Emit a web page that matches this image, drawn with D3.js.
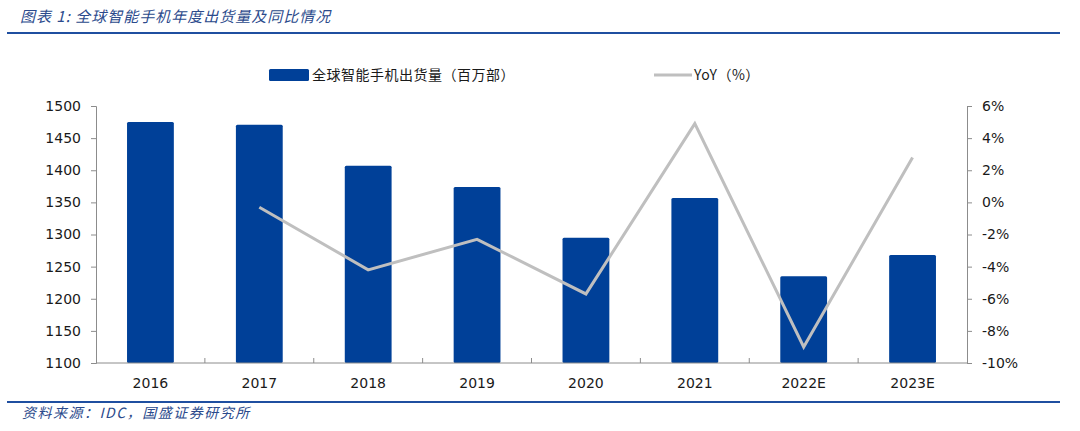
<!DOCTYPE html>
<html>
<head>
<meta charset="utf-8">
<script src="https://cdn.jsdelivr.net/npm/d3@7"></script>
<style>
  body { margin: 0; background: #fff; }
  svg { display: block; }
  .tick text { font-family: "DejaVu Sans", sans-serif; font-size: 14px; fill: #1a1a1a; }
</style>
</head>
<body>
<div id="chart"></div>
<script>
// data
const years = ["2016", "2017", "2018", "2019", "2020", "2021", "2022E", "2023E"];
const shipments = [1475, 1471, 1407, 1374, 1295, 1357, 1235, 1268];
const yoy = [null, -0.3, -4.2, -2.3, -5.7, 4.9, -9.0, 2.8];
const leftTicks = [1100, 1150, 1200, 1250, 1300, 1350, 1400, 1450, 1500];
const rightTicks = [-10, -8, -6, -4, -2, 0, 2, 4, 6];

const W = 1080, H = 431;
const m = { left: 96, right: 113, top: 106, bottom: 68 };
const iw = W - m.left - m.right, ih = H - m.top - m.bottom;

const svg = d3.select("#chart").append("svg").attr("width", W).attr("height", H);

// title + rules
svg.append("text")
    .attr("x", 20).attr("y", 22)
    .attr("font-family", "'Noto Sans CJK SC', sans-serif")
    .attr("font-size", 15).attr("font-style", "italic")
    .attr("letter-spacing", 1)
    .attr("fill", "#2b4a8c")
    .text("图表 1:  全球智能手机年度出货量及同比情况");
svg.append("line").attr("x1", 7).attr("x2", 1060).attr("y1", 33).attr("y2", 33)
    .attr("stroke", "#1f4fa0").attr("stroke-width", 2);
svg.append("line").attr("x1", 7).attr("x2", 1060).attr("y1", 402).attr("y2", 402)
    .attr("stroke", "#1f4fa0").attr("stroke-width", 2);
svg.append("text")
    .attr("x", 22).attr("y", 418)
    .attr("font-family", "'Noto Sans CJK SC', sans-serif")
    .attr("font-size", 14).attr("font-style", "italic")
    .attr("letter-spacing", 1.5)
    .attr("fill", "#2b4a8c")
    .text("资料来源：IDC，国盛证券研究所");

const g = svg.append("g").attr("transform", `translate(${m.left},${m.top})`);

const x = d3.scaleBand().domain(years).range([0, iw]).paddingInner(0.57).paddingOuter(0.285);
const xb = d3.scaleBand().domain(years).range([0, iw]);
const yL = d3.scaleLinear().domain([1100, 1500]).range([ih, 0]);
const yR = d3.scaleLinear().domain([-10, 6]).range([ih, 0]);

// bars
g.selectAll("rect.bar")
    .data(years)
    .enter()
    .append("rect")
    .attr("class", "bar")
    .attr("x", d => x(d))
    .attr("width", x.bandwidth())
    .attr("y", (d, i) => yL(shipments[i]))
    .attr("height", (d, i) => ih - yL(shipments[i]))
    .attr("rx", 1.5)
    .attr("fill", "#004098");

// yoy line
const pts = years.map((d, i) => ({ k: d, v: yoy[i] })).filter(p => p.v !== null);
g.append("path")
    .datum(pts)
    .attr("fill", "none")
    .attr("stroke", "#bfbfbf")
    .attr("stroke-width", 3)
    .attr("d", d3.line().x(p => xb(p.k) + xb.bandwidth() / 2).y(p => yR(p.v)));

// axes
const axisColor = "#8c8c8c";
const left = g.append("g")
    .call(d3.axisLeft(yL).tickValues(leftTicks).tickSize(5).tickPadding(10).tickFormat(d3.format("d")));
left.select(".domain").attr("stroke", axisColor);
left.selectAll(".tick line").attr("stroke", axisColor);

const right = g.append("g").attr("transform", `translate(${iw},0)`)
    .call(d3.axisRight(yR).tickValues(rightTicks).tickSize(5).tickPadding(10).tickFormat(d => d + "%"));
right.select(".domain").attr("stroke", axisColor);
right.selectAll(".tick line").attr("stroke", axisColor);

// category axis: ticks at band boundaries pointing up
const bottom = g.append("g").attr("transform", `translate(0,${ih})`);
bottom.append("line").attr("x1", 0).attr("x2", iw).attr("stroke", axisColor);
bottom.selectAll("line.sep")
    .data(years.slice(1))
    .enter()
    .append("line")
    .attr("class", "sep")
    .attr("x1", d => xb(d)).attr("x2", d => xb(d))
    .attr("y1", 0).attr("y2", -5)
    .attr("stroke", axisColor);
bottom.selectAll("text")
    .data(years)
    .enter()
    .append("text")
    .attr("x", d => xb(d) + xb.bandwidth() / 2)
    .attr("y", 25)
    .attr("text-anchor", "middle")
    .attr("font-family", "'DejaVu Sans', sans-serif")
    .attr("font-size", 14)
    .attr("fill", "#1a1a1a")
    .text(d => d);

// legend
const leg = svg.append("g").attr("font-family", "'Noto Sans CJK SC', sans-serif").attr("font-size", 14).attr("fill", "#1a1a1a");
leg.append("rect").attr("x", 269).attr("y", 69).attr("width", 40).attr("height", 12).attr("rx", 1.5).attr("fill", "#004098");
leg.append("text").attr("x", 312).attr("y", 80).attr("letter-spacing", 0.5).text("全球智能手机出货量（百万部）");
leg.append("line").attr("x1", 654).attr("x2", 692).attr("y1", 75).attr("y2", 75).attr("stroke", "#bfbfbf").attr("stroke-width", 3);
leg.append("text").attr("x", 694).attr("y", 80).attr("letter-spacing", 0.5).text("YoY（%）");
</script>
</body>
</html>
